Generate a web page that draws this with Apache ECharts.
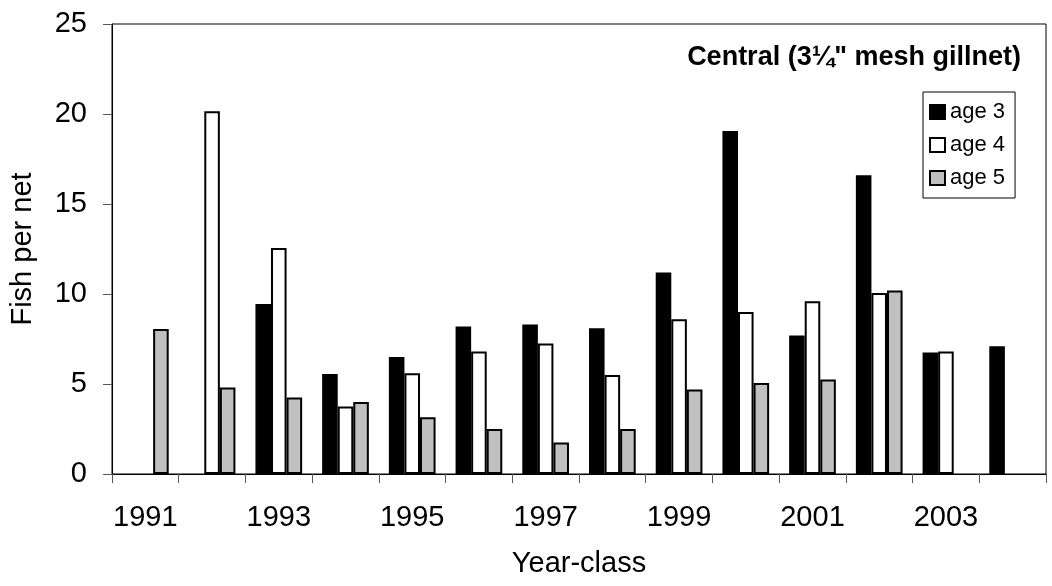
<!DOCTYPE html>
<html>
<head>
<meta charset="utf-8">
<script src="https://cdn.jsdelivr.net/npm/echarts@6/dist/echarts.min.js"></script>
<style>
  html, body { margin: 0; padding: 0; background: #fff; }
  #chart { width: 1052px; height: 586px; }
</style>
</head>
<body>
<div id="chart"></div>
<script>
    // year-classes and fish per net by age
    var years = ['1991','1992','1993','1994','1995','1996','1997','1998','1999','2000','2001','2002','2003','2004'];
    var age3 = [null, null, 9.45, 5.55, 6.5, 8.2, 8.3, 8.1, 11.2, 19.05, 7.7, 16.6, 6.75, 7.1];
    var age4 = [null, 20.15, 12.55, 3.75, 5.6, 6.8, 7.25, 5.5, 8.6, 9.0, 9.6, 10.05, 6.8, null];
    var age5 = [8.05, 4.8, 4.25, 4.0, 3.15, 2.5, 1.75, 2.5, 4.7, 5.05, 5.25, 10.2, null, null];

    var myChart = echarts.init(document.getElementById('chart'));
    var font = 'Liberation Sans, Arial, sans-serif';

    var option = {
        animation: false,
        title: {
            text: 'Central (3\u00BC" mesh gillnet)',
            right: 31,
            top: 44,
            padding: 0,
            textStyle: { fontFamily: font, fontSize: 27, fontWeight: 'bold', color: '#000' }
        },
        legend: {
            orient: 'vertical',
            left: 923,
            top: 92,
            itemWidth: 15,
            itemHeight: 14,
            itemGap: 11,
            padding: [9, 10, 9, 6],
            borderColor: '#000',
            borderWidth: 1,
            backgroundColor: '#fff',
            icon: 'rect',
            textStyle: { fontFamily: font, fontSize: 22, color: '#000' },
            data: ['age 3', 'age 4', 'age 5']
        },
        grid: {
            left: 112,
            right: 6,
            top: 24,
            bottom: 112,
            show: true,
            borderColor: '#000',
            borderWidth: 1
        },
        xAxis: {
            type: 'category',
            data: years,
            name: 'Year-class',
            nameLocation: 'middle',
            nameGap: 75,
            nameTextStyle: { fontFamily: font, fontSize: 29, color: '#000' },
            axisLine: { lineStyle: { color: '#000', width: 1 } },
            axisTick: { show: true, interval: 0, length: 9, lineStyle: { color: '#555' } },
            axisLabel: { interval: 1, margin: 29, fontFamily: font, fontSize: 29, color: '#000' }
        },
        yAxis: {
            type: 'value',
            min: 0,
            max: 25,
            interval: 5,
            name: 'Fish per net',
            nameLocation: 'middle',
            nameGap: 75,
            nameTextStyle: { fontFamily: font, fontSize: 29, color: '#000' },
            axisLine: { show: true, lineStyle: { color: '#000', width: 1 } },
            axisTick: { show: true, length: 9, lineStyle: { color: '#555' } },
            axisLabel: { margin: 25, fontFamily: font, fontSize: 29, color: '#000' },
            splitLine: { show: false }
        },
        series: [
            {
                name: 'age 3',
                type: 'bar',
                data: age3,
                barGap: '0%',
                barCategoryGap: '30%',
                itemStyle: { color: '#000', borderColor: '#000', borderWidth: 1.5 }
            },
            {
                name: 'age 4',
                type: 'bar',
                data: age4,
                barGap: '0%',
                barCategoryGap: '30%',
                itemStyle: { color: '#fff', borderColor: '#000', borderWidth: 2 }
            },
            {
                name: 'age 5',
                type: 'bar',
                data: age5,
                barGap: '0%',
                barCategoryGap: '30%',
                itemStyle: { color: '#c0c0c0', borderColor: '#000', borderWidth: 2 }
            }
        ]
    };
    myChart.setOption(option);
</script>
</body>
</html>
